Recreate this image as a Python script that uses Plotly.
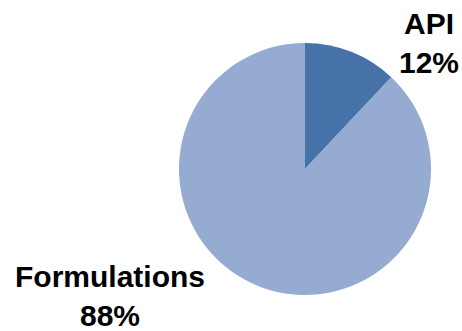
import plotly.graph_objects as go

labels = ["API", "Formulations"]
values = [12, 88]
colors = ["#4672A8", "#95ABD2"]

W, H = 462, 331
fig = go.Figure(go.Pie(
    labels=labels, values=values, sort=False, direction="clockwise", rotation=0,
    marker=dict(colors=colors, line=dict(width=0)), textinfo="none",
    hoverinfo="label+percent",
    domain=dict(x=[(305-126)/W, (305+126)/W], y=[(331-169-126)/H, (331-169+126)/H]),
))

pos = {"API": (429, 43), "Formulations": (110, 296)}
total = sum(values)
for lab, v in zip(labels, values):
    px, py = pos[lab]
    fig.add_annotation(x=px/W, y=1-py/H, xref="paper", yref="paper",
                       text=f"{lab}<br>{round(100*v/total)}%", showarrow=False,
                       font=dict(family="Liberation Sans", size=30, color="#000000", weight="bold"),
                       align="center", xanchor="center", yanchor="middle")

fig.update_layout(width=W, height=H, margin=dict(l=0, r=0, t=0, b=0),
                  paper_bgcolor="white", showlegend=False)
fig.write_html("out.html", config={"displayModeBar": False},
               post_script="document.body.style.margin='0';document.body.style.overflow='hidden';")
